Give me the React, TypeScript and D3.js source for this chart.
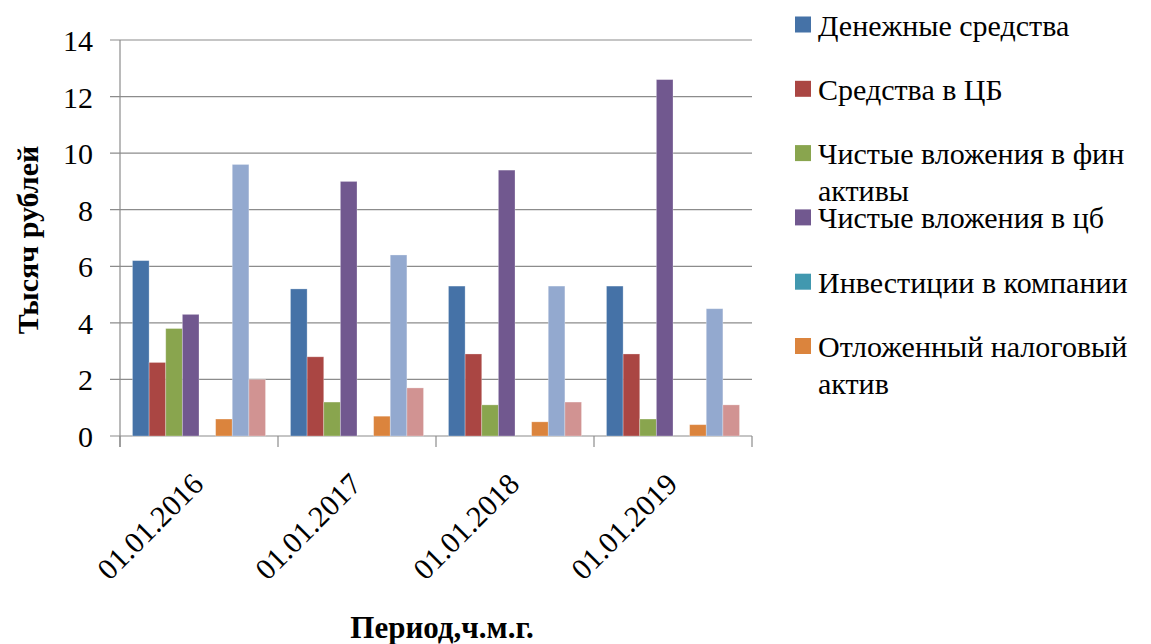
import React from "react";
import * as d3 from "d3";

// Balance-sheet items by reporting date, thousand roubles
const periods = ["01.01.2016", "01.01.2017", "01.01.2018", "01.01.2019"];
const seriesNames = [
  "Денежные средства",
  "Средства в ЦБ",
  "Чистые вложения в фин активы",
  "Чистые вложения в цб",
  "Инвестиции в компании",
  "Отложенный налоговый актив",
  "Прочие активы",
  "Основные средства",
];
const cash = [6.2, 5.2, 5.3, 5.3];
const cbFunds = [2.6, 2.8, 2.9, 2.9];
const finAssets = [3.8, 1.2, 1.1, 0.6];
const securities = [4.3, 9.0, 9.4, 12.6];
const investments = [0, 0, 0, 0];
const deferredTax = [0.6, 0.7, 0.5, 0.4];
const otherAssets = [9.6, 6.4, 5.3, 4.5];
const fixedAssets = [2.0, 1.7, 1.2, 1.1];
const seriesValues = [cash, cbFunds, finAssets, securities, investments, deferredTax, otherAssets, fixedAssets];
const colors = ["#4572A7", "#AA4643", "#89A54E", "#71588F", "#4198AF", "#DB843D", "#93A9CF", "#D19392"];
const yTicks = [0, 2, 4, 6, 8, 10, 12, 14];

// Only the first six series appear in the legend
const legendItems = [
  ["Денежные средства"],
  ["Средства в ЦБ"],
  ["Чистые вложения в фин", "активы"],
  ["Чистые вложения в цб"],
  ["Инвестиции в компании"],
  ["Отложенный налоговый", "актив"],
];

const W = 1151;
const H = 644;
const plot = { left: 120, right: 752, top: 40, bottom: 436 };
const gridColor = "#8C8C8C";
const serif = "Liberation Serif";

export default function App() {
  const y = d3.scaleLinear().domain([0, 14]).range([plot.bottom, plot.top]);
  const x0 = d3.scaleBand<string>().domain(periods).range([plot.left, plot.right]).paddingInner(0).paddingOuter(0);
  const bw = x0.bandwidth() / 9.5; // gap width 150%
  const x1 = d3
    .scaleBand<number>()
    .domain(d3.range(seriesNames.length))
    .range([0.75 * bw, 0.75 * bw + 8 * bw]);

  return (
    <svg width={W} height={H}>
      {/* shift by the body margin so the chart sits at the page origin */}
      <g transform="translate(-8,-8)">
        {/* horizontal gridlines */}
        {yTicks.map((t) => (
          <line key={"g" + t} x1={plot.left - 10} x2={plot.right} y1={y(t)} y2={y(t)} stroke={gridColor} strokeWidth={1.2} />
        ))}
        {/* y axis */}
        <line x1={plot.left} x2={plot.left} y1={plot.top} y2={plot.bottom + 11} stroke={gridColor} strokeWidth={1.2} />
        {/* category ticks */}
        {d3.range(periods.length + 1).map((i) => {
          const xx = plot.left + i * x0.step();
          return <line key={"xt" + i} x1={xx} x2={xx} y1={plot.bottom} y2={plot.bottom + 11} stroke={gridColor} strokeWidth={1.2} />;
        })}
        {/* bars */}
        {periods.map((p, pi) => (
          <g key={p} transform={`translate(${x0(p)},0)`}>
            {seriesValues.map((vals, si) =>
              vals[pi] > 0 ? (
                <rect
                  key={si}
                  x={x1(si)}
                  y={y(vals[pi])}
                  width={x1.bandwidth()}
                  height={y(0) - y(vals[pi])}
                  fill={colors[si]}
                  stroke="rgba(255,255,255,0.35)"
                  strokeWidth={0.8}
                />
              ) : null
            )}
          </g>
        ))}
        {/* legend swatches */}
        {legendItems.map((_, i) => (
          <rect key={"sw" + i} x={795} y={24.5 + i * 64.3 - 8} width={16} height={16} fill={colors[i]} />
        ))}
        {/* y tick labels */}
        {yTicks.map((t) => (
          <text key={"yt" + t} x={93} y={y(t) + 11} textAnchor="end" style={{ fontFamily: serif, fontSize: 30 }}>
            {t}
          </text>
        ))}
        {/* category labels */}
        {periods.map((p) => {
          const cx = (x0(p) as number) + x0.bandwidth() / 2 + 6;
          const cy = plot.bottom + 50;
          return (
            <text key={"l" + p} x={cx} y={cy} transform={`rotate(-45 ${cx} ${cy})`} textAnchor="end" style={{ fontFamily: serif, fontSize: 30 }}>
              {p}
            </text>
          );
        })}
        {/* legend labels */}
        {legendItems.map((lines, i) =>
          lines.map((ln, li) => (
            <text key={"lt" + i + "-" + li} x={818} y={24.5 + i * 64.3 + 11 + li * 36.5} style={{ fontFamily: serif, fontSize: 30 }}>
              {ln}
            </text>
          ))
        )}
        {/* axis titles */}
        <text x={38} y={240} transform="rotate(-90 38 240)" textAnchor="middle" style={{ fontFamily: serif, fontSize: 30, fontWeight: 700 }}>
          Тысяч рублей
        </text>
        <text x={442} y={638} textAnchor="middle" style={{ fontFamily: serif, fontSize: 31, fontWeight: 700 }}>
          Период,ч.м.г.
        </text>
      </g>
    </svg>
  );
}
